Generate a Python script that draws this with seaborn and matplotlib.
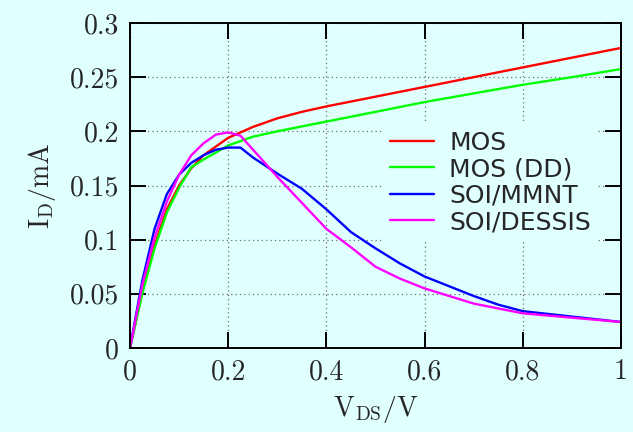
import pandas as pd
import numpy as np
import matplotlib
matplotlib.use("Agg")
import matplotlib.pyplot as plt
import seaborn as sns

# I-V curves (V_DS in V, I_D in mA)
mos_v = [0, 0.025, 0.05, 0.075, 0.1, 0.125, 0.15, 0.175, 0.2, 0.25, 0.3, 0.35,
         0.4, 0.5, 0.6, 0.7, 0.8, 0.9, 1.0]
mos_i = [0, 0.052, 0.095, 0.128, 0.150, 0.166, 0.178, 0.186, 0.194, 0.204, 0.212,
         0.218, 0.223, 0.232, 0.241, 0.250, 0.259, 0.268, 0.277]

dd_v = [0, 0.025, 0.05, 0.075, 0.1, 0.125, 0.15, 0.2, 0.25, 0.3, 0.4, 0.5, 0.6,
        0.7, 0.8, 0.9, 1.0]
dd_i = [0, 0.050, 0.092, 0.125, 0.148, 0.167, 0.174, 0.187, 0.195, 0.200, 0.209,
        0.218, 0.227, 0.235, 0.243, 0.250, 0.2575]

mmnt_v = [0, 0.025, 0.05, 0.075, 0.1, 0.125, 0.15, 0.175, 0.2, 0.225, 0.25, 0.3,
          0.35, 0.4, 0.45, 0.5, 0.55, 0.6, 0.65, 0.7, 0.75, 0.8, 0.9, 1.0]
mmnt_i = [0, 0.062, 0.110, 0.142, 0.160, 0.171, 0.178, 0.183, 0.185, 0.185, 0.176,
          0.161, 0.147, 0.128, 0.107, 0.092, 0.078, 0.066, 0.057, 0.048, 0.040,
          0.034, 0.029, 0.024]

dessis_v = [0, 0.025, 0.05, 0.075, 0.1, 0.125, 0.15, 0.175, 0.2, 0.225, 0.3, 0.35,
            0.4, 0.45, 0.5, 0.55, 0.6, 0.7, 0.8, 0.9, 1.0]
dessis_i = [0, 0.058, 0.102, 0.135, 0.160, 0.178, 0.189, 0.197, 0.199, 0.196, 0.158,
            0.134, 0.110, 0.093, 0.075, 0.064, 0.055, 0.041, 0.032, 0.028, 0.024]

series_names = ["MOS", "MOS (DD)", "SOI/MMNT", "SOI/DESSIS"]
series_colors = ["#ff0000", "#00ff00", "#0000ff", "#ff00ff"]

x_ticks = [0, 0.2, 0.4, 0.6, 0.8, 1.0]
x_tick_labels = ["0", "0.2", "0.4", "0.6", "0.8", "1"]
y_ticks = [0, 0.05, 0.1, 0.15, 0.2, 0.25, 0.3]
y_tick_labels = ["0", "0.05", "0.1", "0.15", "0.2", "0.25", "0.3"]

bg = "#e0ffff"

frames = []
for name, v, i in zip(series_names, [mos_v, dd_v, mmnt_v, dessis_v],
                      [mos_i, dd_i, mmnt_i, dessis_i]):
    frames.append(pd.DataFrame({"V": v, "I": i, "curve": name}))
df = pd.concat(frames, ignore_index=True)

sns.set_style("ticks")
plt.rcParams["mathtext.fontset"] = "cm"
plt.rcParams["axes.formatter.use_mathtext"] = True

fig = plt.figure(figsize=(6.33, 4.32), dpi=100, facecolor=bg)
ax = fig.add_axes([130 / 633, 84 / 432, 491 / 633, 325 / 432])
ax.set_facecolor(bg)

sns.lineplot(data=df, x="V", y="I", hue="curve", hue_order=series_names,
             palette=series_colors, estimator=None, sort=False,
             linewidth=1.7, ax=ax)

ax.set_xlim(0, 1)
ax.set_ylim(0, 0.3)
ax.set_xticks(x_ticks)
ax.set_xticklabels(x_tick_labels, family="cmr10", fontsize=20)
ax.set_yticks(y_ticks)
ax.set_yticklabels(y_tick_labels, family="cmr10", fontsize=20)
ax.tick_params(direction="in", length=11.5, width=1.4, top=True, right=True,
               color="black", pad=8)

ax.grid(True, color="#707070", linestyle=(0, (1, 2.5)), linewidth=0.9)
for s in ax.spines.values():
    s.set_linewidth(1.4)
    s.set_color("black")

ax.set_xlabel(r"$\mathrm{V_{DS}/V}$", fontsize=20, labelpad=6)
ax.set_ylabel(r"$\mathrm{I_D/mA}$", fontsize=20, labelpad=8)

leg = ax.legend(loc="upper left", bbox_to_anchor=(0.515, 0.692), borderaxespad=0,
                frameon=True, fontsize=18, handlelength=1.75, handletextpad=0.6,
                labelspacing=0.1, borderpad=0.3, fancybox=False)
leg.get_frame().set_facecolor(bg)
leg.get_frame().set_edgecolor("none")
leg.get_frame().set_alpha(1)
for line in leg.get_lines():
    line.set_linewidth(1.7)

fig.savefig("out.png", dpi=100, facecolor=bg)
